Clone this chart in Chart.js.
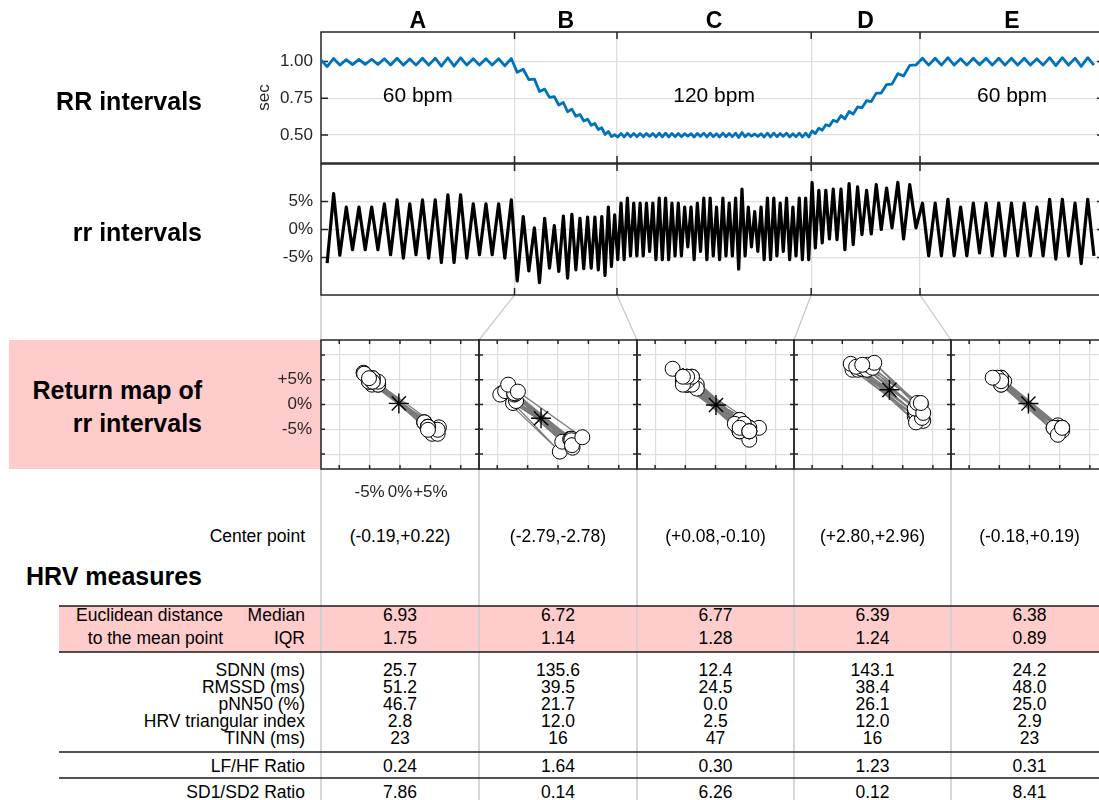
<!DOCTYPE html>
<html><head><meta charset="utf-8">
<script src="https://cdn.jsdelivr.net/npm/chart.js@4.4.0/dist/chart.umd.min.js"></script>
<style>
html,body{margin:0;padding:0;background:#fff;overflow:hidden;width:1099px;height:800px;}
#root{position:relative;width:1099px;height:800px;overflow:hidden;font-family:"Liberation Sans",Arial,Helvetica,sans-serif;}
canvas{position:absolute;}
.t{position:absolute;white-space:nowrap;line-height:1;color:#000;}
</style></head><body><div id="root">
<div style="position:absolute;left:9px;top:340px;width:312px;height:129px;background:#ffcccc"></div>
<div style="position:absolute;left:59px;top:606px;width:1060px;height:46px;background:#ffcccc"></div>
<svg id="ov" width="1110" height="800" style="position:absolute;left:0;top:0"></svg>
<canvas id="cRR" width="1110" height="185" style="left:0;top:0"></canvas>
<canvas id="crr" width="1110" height="180" style="left:0;top:135px"></canvas>
</div>
<script>
// ---------------- data ----------------
const sections = ['A','B','C','D','E'];
const bpmText = ['60 bpm','','120 bpm','','60 bpm'];
const boundaries = [30.4, 46.5, 77.0, 94.1];        // section borders (s)
const xMaxSec = 123;
const RRticks = [0.5, 0.75, 1.0];
const rrTicks = [-5, 0, 5];

// RR intervals (sec), per section
const RR_A = [1.010,0.965,1.020,0.975,1.012,0.978,1.014,0.980,1.015,0.980,1.018,0.976,1.022,0.975,1.017,0.975,1.022,0.975,1.022,0.968,1.025,0.968,1.025,0.975,1.018,0.975,1.018,0.975,1.018,0.970,1.020];
const RR_B = [0.926,0.947,0.877,0.880,0.796,0.812,0.756,0.761,0.704,0.721,0.658,0.676,0.627,0.640,0.595,0.608,0.566,0.578,0.537,0.549,0.504,0.524,0.490,0.502];
const RR_C = [0.487,0.511,0.487,0.513,0.489,0.511,0.489,0.511,0.489,0.511,0.491,0.511,0.487,0.513,0.487,0.513,0.487,0.511,0.489,0.511,0.489,0.509,0.493,0.509,0.487,0.511,0.491,0.513,0.487,0.513,0.489,0.509,0.487,0.513,0.489,0.511,0.489,0.513,0.483,0.517,0.489,0.509,0.493,0.507,0.491,0.509,0.487,0.513,0.487,0.513,0.489,0.511,0.491,0.513,0.487,0.509,0.489,0.513,0.487,0.513,0.487];
const RR_D = [0.528,0.510,0.546,0.533,0.570,0.561,0.601,0.590,0.633,0.610,0.660,0.642,0.691,0.685,0.733,0.727,0.785,0.785,0.843,0.846,0.917,0.901,0.973,0.976];
const RR_E = [1.022,0.975,1.022,0.975,1.026,0.975,1.018,0.975,1.022,0.978,1.022,0.975,1.022,0.975,1.022,0.975,1.022,0.975,1.018,0.975,1.026,0.972,1.026,0.975,1.022,0.966,1.026,0.975];

// rr intervals (%), per section (first beat of A has none)
const rr_A = [-6.0,6.4,-4.6,4.0,-3.6,4.0,-3.6,4.0,-3.6,4.6,-4.5,5.3,-5.1,4.6,-4.5,5.3,-5.1,5.3,-5.9,6.2,-5.9,6.2,-5.1,4.6,-4.5,4.6,-4.5,4.6,-5.1,5.3];
const rr_B = [-9.2,2.3,-7.4,0.3,-9.5,2.0,-6.9,0.7,-7.5,2.4,-8.7,2.7,-7.2,2.0,-7.0,2.2,-6.9,2.2,-7.2,2.3,-8.2,4.0,-6.6,2.6];
const rr_C = [-5.4,4.7,-5.4,5.6,-4.7,4.7,-4.7,4.7,-4.7,4.7,-3.9,4.7,-5.4,5.6,-5.4,5.6,-5.4,4.7,-4.7,4.7,-4.7,4.0,-3.1,4.0,-5.4,4.7,-3.9,5.6,-5.4,5.6,-4.7,4.0,-5.4,5.6,-4.7,4.7,-4.7,5.6,-7.1,7.2,-4.7,4.0,-3.1,3.2,-3.9,4.0,-5.4,5.6,-5.4,5.6,-4.7,4.7,-3.9,5.6,-5.4,4.0,-4.7,5.6,-5.4,5.6,-5.4];
const rr_D = [8.4,-3.3,7.0,-2.4,7.0,-1.7,7.2,-1.8,7.2,-3.6,8.2,-2.7,7.6,-0.9,7.0,-0.8,8.0,0.0,7.4,0.3,8.4,-1.7,8.0,0.3];
const rr_E = [4.7,-4.7,4.7,-4.7,5.4,-4.7,4.0,-4.7,4.7,-4.2,4.7,-4.7,4.7,-4.7,4.7,-4.7,4.7,-4.7,4.0,-4.7,5.4,-5.3,5.4,-4.7,4.7,-6.1,5.4,-4.7];

// HRV table
const centerX = [-0.19,-2.79,0.08,2.80,-0.18];
const centerY = [0.22,-2.78,-0.10,2.96,0.19];
const medianDist = [6.93,6.72,6.77,6.39,6.38];
const iqrDist = [1.75,1.14,1.28,1.24,0.89];
const sdnn = [25.7,135.6,12.4,143.1,24.2];
const rmssd = [51.2,39.5,24.5,38.4,48.0];
const pnn50 = [46.7,21.7,0.0,26.1,25.0];
const hrvTri = [2.8,12.0,2.5,12.0,2.9];
const tinn = [23,16,47,16,23];
const lfhf = [0.24,1.64,0.30,1.23,0.31];
const sd1sd2 = [7.86,0.14,6.26,0.12,8.41];

// ---------------- layout constants ----------------
const FONT = '"Liberation Sans", Arial, Helvetica, sans-serif';
const GRID = '#dedede';
const AX = '#262626';
const rmEdges = [321, 479, 637, 794, 951, 1108];
const rmTop = 340, rmH = 129;
const root = document.getElementById('root');

Chart.defaults.font.family = FONT;
Chart.defaults.font.size = 17;
Chart.defaults.color = AX;

const boxPlugin = {
  id: 'matBox',
  beforeDatasetsDraw(chart, args, o) {
    const {ctx, chartArea: a} = chart;
    const L = o.len || 6;
    ctx.save();
    ctx.strokeStyle = AX; ctx.lineWidth = 1.5;
    ctx.strokeRect(a.left, a.top, a.right - a.left, a.bottom - a.top);
    ctx.beginPath();
    const xs = chart.scales.x, ys = chart.scales.y;
    xs.ticks.forEach(t => { const p = xs.getPixelForValue(t.value);
      ctx.moveTo(p, a.top); ctx.lineTo(p, a.top + L); ctx.moveTo(p, a.bottom); ctx.lineTo(p, a.bottom - L); });
    ys.ticks.forEach(t => { const p = ys.getPixelForValue(t.value);
      ctx.moveTo(a.left, p); ctx.lineTo(a.left + L, p); ctx.moveTo(a.right, p); ctx.lineTo(a.right - L, p); });
    ctx.stroke(); ctx.restore();
  }
};

// make a chart's plot area land on a target box (canvas coordinates)
function fitArea(chart, tg) {
  for (let it = 0; it < 4; it++) {
    const a = chart.chartArea, p = chart.options.layout.padding;
    const dl = tg.left - a.left, dt = tg.top - a.top, dr = a.right - tg.right, db = a.bottom - tg.bottom;
    if (Math.abs(dl) + Math.abs(dt) + Math.abs(dr) + Math.abs(db) < 0.3) break;
    p.left += dl; p.top += dt; p.right += dr; p.bottom += db;
    chart.update();
  }
}

// time of each beat = cumulative RR
const RR = [...RR_A, ...RR_B, ...RR_C, ...RR_D, ...RR_E];
const rrAll = [...rr_A, ...rr_B, ...rr_C, ...rr_D, ...rr_E];
const tBeat = [0];
for (let i = 1; i < RR.length; i++) tBeat.push(tBeat[i-1] + RR[i]);
const RRpts = RR.map((v, i) => ({x: tBeat[i], y: v}));
const rrPts = rrAll.map((v, j) => ({x: tBeat[j+1], y: v}));

function timeScales(ymin, ymax, yt, fmt, title) {
  return {
    x: { type: 'linear', min: 0, max: xMaxSec,
      afterBuildTicks: s => { s.ticks = boundaries.map(v => ({value: v})); },
      afterFit: s => { s.height = 0; },
      ticks: {display: false}, grid: {color: GRID, lineWidth: 1.3, drawTicks: false}, border: {display: false} },
    y: { min: ymin, max: ymax,
      afterBuildTicks: s => { s.ticks = yt.map(v => ({value: v})); },
      afterFit: s => { s.width = 67; },
      ticks: {padding: 8, font: {size: 17}, color: AX, callback: fmt},
      grid: {color: GRID, lineWidth: 1.3, drawTicks: false}, border: {display: false},
      title: title ? {display: true, text: title, font: {size: 17}, color: AX, padding: 0} : {display: false} }
  };
}
const baseOpts = { responsive: false, animation: false, devicePixelRatio: 1 };

const cRR = new Chart(document.getElementById('cRR'), {
  type: 'line',
  data: {datasets: [{data: RRpts, borderColor: '#0072BD', borderWidth: 2.8, pointRadius: 0, tension: 0, fill: false, borderJoinStyle: 'round'}]},
  options: Object.assign({}, baseOpts, {
    layout: {padding: {left: 254, top: 32, right: 6, bottom: 20}},
    plugins: {legend: {display: false}, tooltip: {enabled: false}, matBox: {len: 7}},
    scales: timeScales(0.31, 1.2, RRticks, v => Number(v).toFixed(2), 'sec')
  }),
  plugins: [boxPlugin]
});
fitArea(cRR, {left: 321, top: 32, right: 1104, bottom: 163});

const rrTop = 135;
const crr = new Chart(document.getElementById('crr'), {
  type: 'line',
  data: {datasets: [{data: rrPts, borderColor: '#000', borderWidth: 3.2, pointRadius: 0, tension: 0, fill: false, borderJoinStyle: 'round'}]},
  options: Object.assign({}, baseOpts, {
    layout: {padding: {left: 254, top: 29, right: 6, bottom: 20}},
    plugins: {legend: {display: false}, tooltip: {enabled: false}, matBox: {len: 7}},
    scales: timeScales(-11.7, 11.7, rrTicks, v => v + '%', null)
  }),
  plugins: [boxPlugin]
});
fitArea(crr, {left: 321, top: 164 - rrTop, right: 1104, bottom: 295 - rrTop});

// ---------------- return maps ----------------
const rrSections = [rr_A, rr_B, rr_C, rr_D, rr_E];
const pctFmt = v => (v === 0 ? '0%' : (Math.abs(v) === 5 ? (v > 0 ? '+' : '') + v + '%' : ''));
const rmCanvasTop = rmTop - 25;
const rmCharts = [];
rrSections.forEach((arr, k) => {
  const w = rmEdges[k+1] - rmEdges[k];
  const cv = document.createElement('canvas');
  cv.width = 60 + w + 12; cv.height = 200;
  cv.style.left = (rmEdges[k] - 60) + 'px'; cv.style.top = rmCanvasTop + 'px';
  root.appendChild(cv);
  const pairs = arr.slice(0, -1).map((v, i) => ({x: v, y: arr[i+1]}));
  const showLab = k === 0;
  const ch = new Chart(cv, {
    type: 'scatter',
    data: {datasets: [
      {data: [{x: centerX[k], y: centerY[k]}], pointStyle: 'star', pointRadius: 10, borderColor: '#000', borderWidth: 1.4, order: 0},
      {data: pairs, showLine: true, borderColor: '#7a7a7a', borderWidth: 1.2, pointRadius: 7.5,
       pointBackgroundColor: '#fff', pointBorderColor: '#000', pointBorderWidth: 1, order: 1}
    ]},
    options: Object.assign({}, baseOpts, {
      layout: {padding: {left: 0, top: 25, right: 12, bottom: 15}},
      plugins: {legend: {display: false}, tooltip: {enabled: false}, matBox: {len: 4}},
      scales: {
        x: {type: 'linear', min: -13, max: 13, afterFit: s => { s.height = 30; },
          ticks: {display: showLab, stepSize: 5, includeBounds: false, autoSkip: false, maxRotation: 0, minRotation: 0, padding: 13, callback: pctFmt, color: AX},
          grid: {color: GRID, lineWidth: 1.2, drawTicks: false}, border: {display: false}},
        y: {min: -13, max: 13, afterFit: s => { s.width = 60; },
          ticks: {display: showLab, stepSize: 5, includeBounds: false, autoSkip: false, padding: 9, callback: pctFmt, color: AX},
          grid: {color: GRID, lineWidth: 1.2, drawTicks: false}, border: {display: false}}
      }
    }),
    plugins: [boxPlugin]
  });
  fitArea(ch, {left: 60, top: rmTop - rmCanvasTop, right: 60 + w, bottom: rmTop + rmH - rmCanvasTop});
  rmCharts.push(ch);
});

// ---------------- texts ----------------
function addText(str, x, y, o = {}) {
  const size = o.size || 17.5;
  const d = document.createElement('div');
  d.className = 't'; d.textContent = str;
  d.style.fontSize = size + 'px';
  d.style.fontWeight = o.bold ? 'bold' : 'normal';
  d.style.top = (y - size * 0.4885) + 'px';
  d.style.left = x + 'px';
  const al = o.align || 'center';
  d.style.transform = al === 'center' ? 'translateX(-50%)' : al === 'right' ? 'translateX(-100%)' : 'none';
  root.appendChild(d);
}
const LBL = {size: 25, bold: true, align: 'right'};
addText('RR intervals', 202, 101, LBL);
addText('rr intervals', 202, 232, LBL);
addText('Return map of', 202, 390, LBL);
addText('rr intervals', 202, 423, LBL);
addText('HRV measures', 202, 576, LBL);

// section letters and bpm labels from the time scale
const xs = cRR.scales.x;
const secEdges = [cRR.chartArea.left, ...boundaries.map(b => xs.getPixelForValue(b)), cRR.chartArea.right];
sections.forEach((s, k) => {
  const cx = (secEdges[k] + secEdges[k+1]) / 2;
  addText(s, cx, 20, {size: 23, bold: true});
  if (bpmText[k]) addText(bpmText[k], cx, 94, {size: 21});
});

// table
const colC = k => (rmEdges[k] + rmEdges[k+1]) / 2;
const sgn = v => (v >= 0 ? '+' : '-') + Math.abs(v).toFixed(2);
const RA = {align: 'right'};
addText('Center point', 305, 537, RA);
addText('Euclidean distance', 223, 616, RA);
addText('to the mean point', 223, 639, RA);
addText('Median', 305, 616, RA);
addText('IQR', 305, 639, RA);
const rows = [
  ['SDNN (ms)', 671, sdnn, 1], ['RMSSD (ms)', 688, rmssd, 1], ['pNN50 (%)', 705, pnn50, 1],
  ['HRV triangular index', 722, hrvTri, 1], ['TINN (ms)', 739, tinn, 0],
  ['LF/HF Ratio', 767, lfhf, 2], ['SD1/SD2 Ratio', 793, sd1sd2, 2]
];
rows.forEach(r => addText(r[0], 305, r[1], RA));
for (let k = 0; k < 5; k++) {
  const cx = colC(k);
  addText('(' + sgn(centerX[k]) + ',' + sgn(centerY[k]) + ')', cx, 537);
  addText(medianDist[k].toFixed(2), cx, 616);
  addText(iqrDist[k].toFixed(2), cx, 639);
  rows.forEach(r => addText(r[2][k].toFixed(r[3]), cx, r[1]));
}

// ---------------- overlay lines ----------------
const svg = document.getElementById('ov');
function line(x1, y1, x2, y2, col, w) {
  const l = document.createElementNS('http://www.w3.org/2000/svg', 'line');
  l.setAttribute('x1', x1); l.setAttribute('y1', y1); l.setAttribute('x2', x2); l.setAttribute('y2', y2);
  l.setAttribute('stroke', col); l.setAttribute('stroke-width', w);
  svg.appendChild(l);
}
const rrBottom = crr.chartArea.bottom + rrTop;
boundaries.forEach((b, i) => {
  line(crr.scales.x.getPixelForValue(b), rrBottom, rmEdges[i+1], rmTop, '#c8c8c8', 1.3);
});
line(rmEdges[0], rrBottom, rmEdges[0], 800, '#cfcfcf', 1.6);
for (let k = 1; k < 5; k++) line(rmEdges[k], rmTop + rmH, rmEdges[k], 800, '#cfcfcf', 1.6);
[606, 652, 752, 778].forEach(y => line(59, y, 1110, y, '#1a1a1a', 1.6));
</script>
</body></html>
